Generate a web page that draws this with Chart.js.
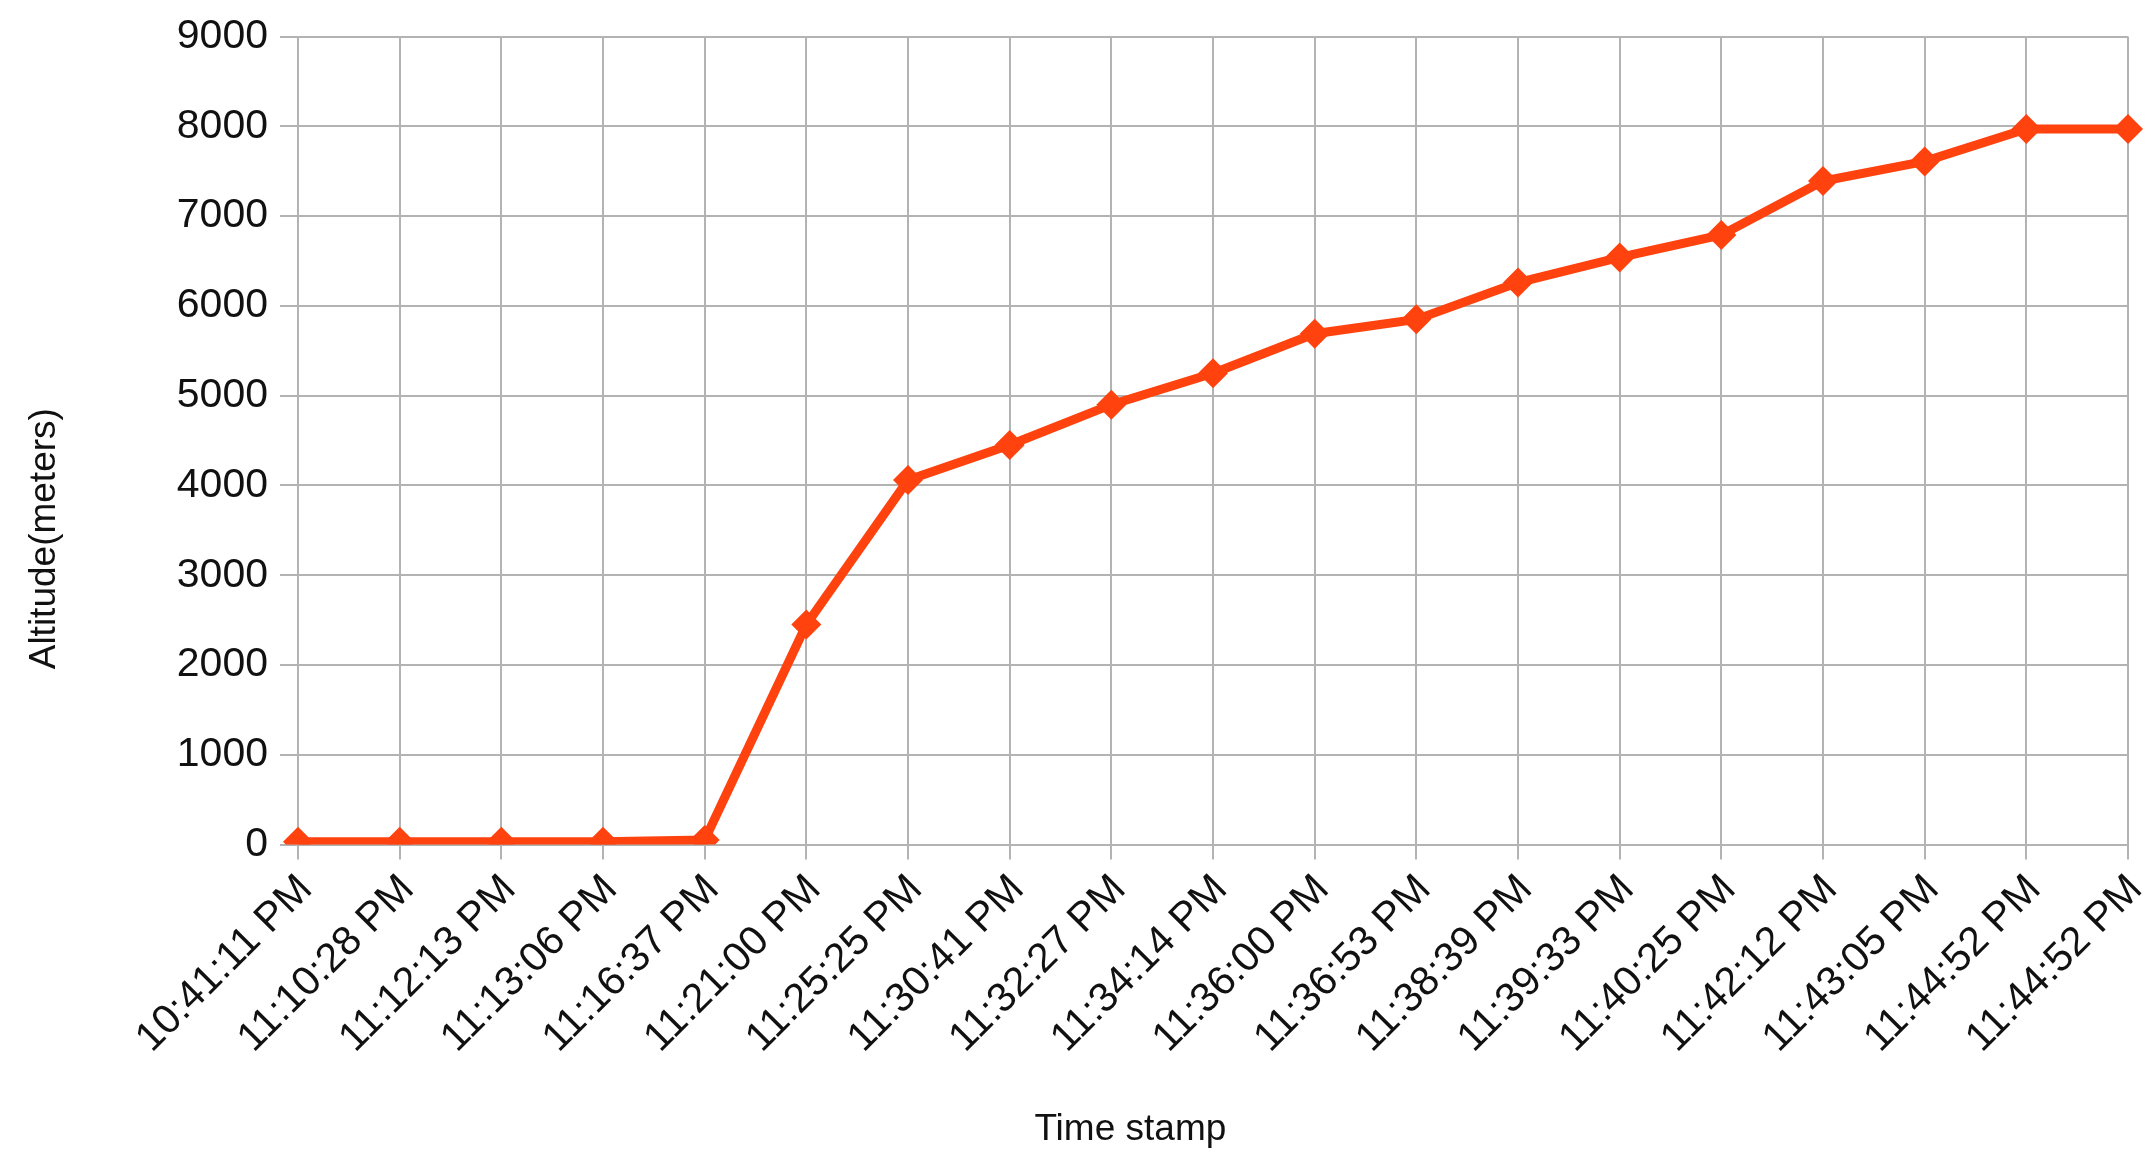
<!DOCTYPE html>
<html>
<head>
<meta charset="utf-8">
<title>Altitude over time</title>
<script src="https://cdn.jsdelivr.net/npm/chart.js@4/dist/chart.umd.min.js"></script>
<style>
  html, body { margin: 0; padding: 0; background: #ffffff; }
  #wrap { width: 2151px; height: 1168px; position: relative; }
</style>
</head>
<body>
<div id="wrap"><canvas id="chart" width="2151" height="1168"></canvas></div>
<script>
// Time stamps of each altitude reading
const timeStamps = [
  '10:41:11 PM', '11:10:28 PM', '11:12:13 PM', '11:13:06 PM', '11:16:37 PM',
  '11:21:00 PM', '11:25:25 PM', '11:30:41 PM', '11:32:27 PM', '11:34:14 PM',
  '11:36:00 PM', '11:36:53 PM', '11:38:39 PM', '11:39:33 PM', '11:40:25 PM',
  '11:42:12 PM', '11:43:05 PM', '11:44:52 PM', '11:44:52 PM'
];

// Altitude in meters at each time stamp
const altitudeMeters = [
  30, 30, 30, 30, 50,
  2450, 4060, 4450, 4900, 5250,
  5690, 5850, 6260, 6540, 6790,
  7390, 7610, 7970, 7970
];

// Y axis range and step
const yMin = 0;
const yMax = 9000;
const yStep = 1000;

const xTitle = 'Time stamp';
const yTitle = 'Altitude(meters)';

const FONT = '"Liberation Sans", Arial, sans-serif';
const TICK_SIZE = 41;
const CAPTION_SIZE = 37;
const GRID = '#b3b3b3';
const TEXT = '#111111';
const SERIES = '#ff420e';

// Draws the two axis captions, centred on the span of the axis labels
const axisCaptions = {
  id: 'axisCaptions',
  afterDraw(chart) {
    const { ctx, chartArea, scales } = chart;
    const xs = scales.x;
    ctx.save();
    ctx.fillStyle = TEXT;
    ctx.textAlign = 'center';
    ctx.textBaseline = 'middle';

    // horizontal reach of the first rotated tick label
    ctx.font = TICK_SIZE + 'px ' + FONT;
    const firstW = ctx.measureText(timeStamps[0]).width;
    const reach = (firstW + 27) * Math.SQRT1_2;
    const labelLeft = xs.getPixelForValue(0) - reach;
    const cx = (labelLeft + chartArea.right) / 2 + 8;

    ctx.font = CAPTION_SIZE + 'px ' + FONT;
    ctx.fillText(xTitle, cx, chartArea.bottom + 285);

    // vertical caption centred between plot top and bottom of the tick labels
    const labelBottom = chartArea.bottom + 15 + reach;
    const cy = (chartArea.top + labelBottom) / 2;
    ctx.translate(45, cy);
    ctx.rotate(-Math.PI / 2);
    ctx.fillText(yTitle, 0, 0);
    ctx.restore();
  }
};

new Chart(document.getElementById('chart'), {
  type: 'line',
  data: {
    labels: timeStamps,
    datasets: [{
      label: yTitle,
      data: altitudeMeters,
      borderColor: SERIES,
      backgroundColor: SERIES,
      borderWidth: 9,
      tension: 0,
      pointStyle: 'rectRot',
      pointRadius: 15,
      pointHoverRadius: 15,
      pointBackgroundColor: SERIES,
      pointBorderColor: SERIES,
      pointBorderWidth: 0
    }]
  },
  options: {
    responsive: false,
    animation: false,
    devicePixelRatio: 1,
    layout: { padding: { top: 34, right: 23, bottom: 0, left: 0 } },
    plugins: {
      legend: { display: false },
      tooltip: { enabled: false },
      title: { display: false }
    },
    scales: {
      x: {
        type: 'category',
        offset: false,
        grid: {
          color: GRID,
          lineWidth: 2,
          drawTicks: true,
          tickLength: 15,
          tickColor: GRID
        },
        border: { color: GRID, width: 2 },
        ticks: {
          autoSkip: false,
          maxRotation: 45,
          minRotation: 45,
          padding: 6,
          labelOffset: 8,
          color: TEXT,
          font: { family: FONT, size: TICK_SIZE }
        },
        afterFit(scale) {
          scale.height = 1168 - 844.5;
          scale.paddingRight = 0;
        }
      },
      y: {
        min: yMin,
        max: yMax,
        grid: {
          color: GRID,
          lineWidth: 2,
          drawTicks: true,
          tickLength: 18,
          tickColor: GRID
        },
        border: { color: GRID, width: 2 },
        ticks: {
          stepSize: yStep,
          padding: 12,
          color: TEXT,
          font: { family: FONT, size: TICK_SIZE },
          callback: (value) => String(value)
        },
        afterFit(scale) {
          scale.width = 298;
        }
      }
    }
  },
  plugins: [axisCaptions]
});
</script>
</body>
</html>
